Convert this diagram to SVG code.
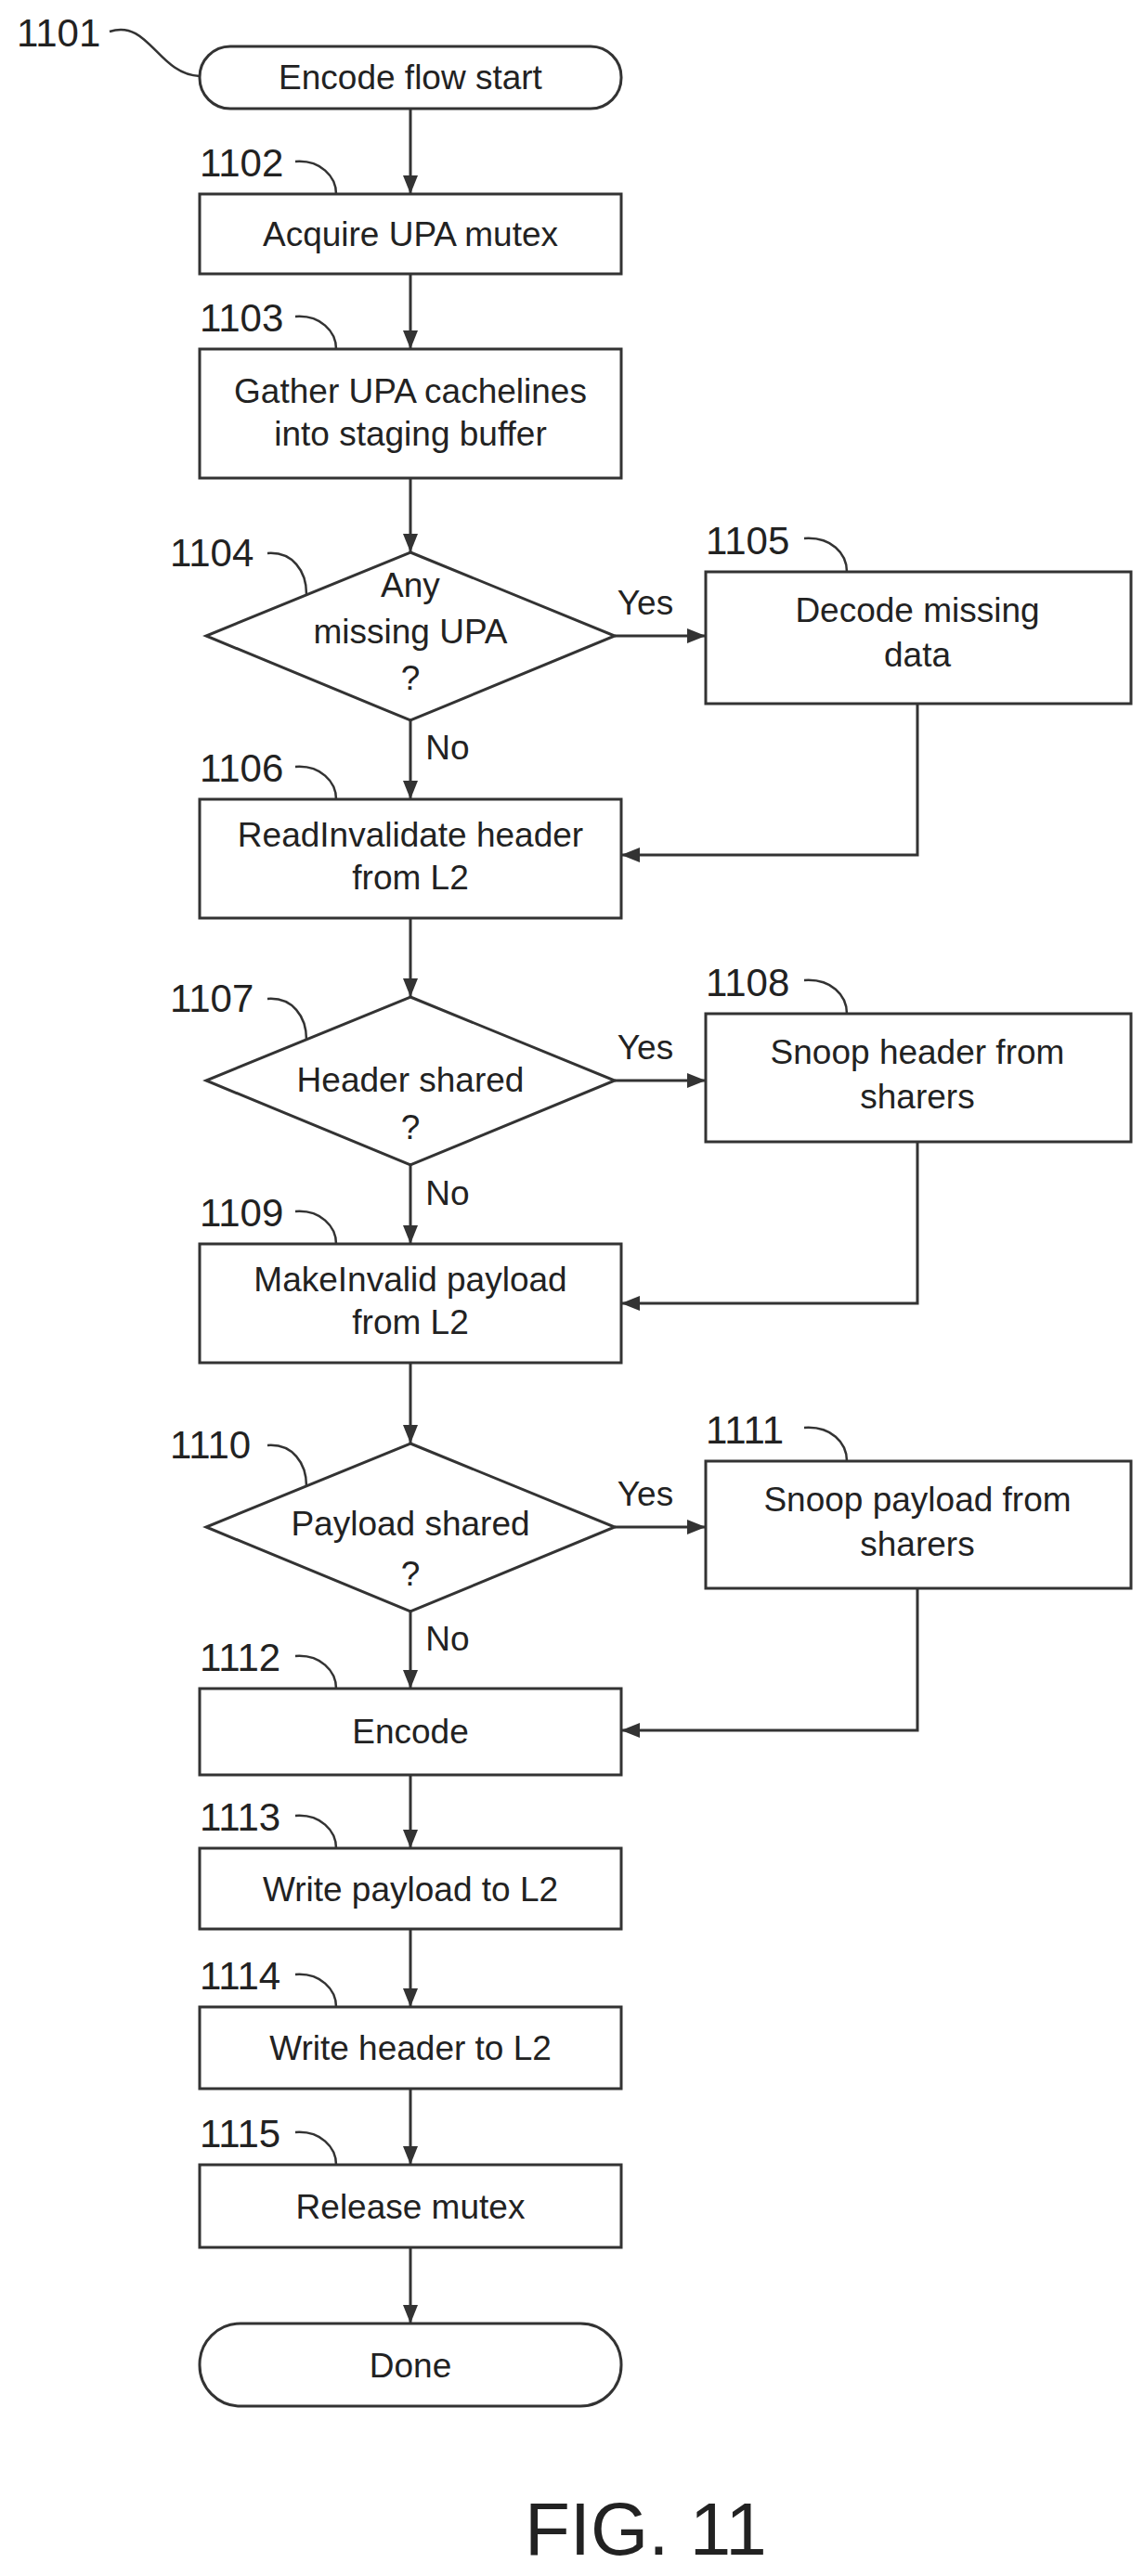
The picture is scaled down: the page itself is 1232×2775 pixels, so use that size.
<svg xmlns="http://www.w3.org/2000/svg" width="1232" height="2775" viewBox="0 0 1232 2775">
<style>
.s{fill:#fff;stroke:#333;stroke-width:3}
.t{font-family:"Liberation Sans",Arial,sans-serif;font-size:37px;fill:#222;text-anchor:middle}
.l{font-family:"Liberation Sans",Arial,sans-serif;font-size:42px;fill:#222}
.c{fill:none;stroke:#333;stroke-width:3}
.k{fill:none;stroke:#333;stroke-width:2.5}
</style>
<defs>
<marker id="a" viewBox="0 0 20 16" refX="20" refY="8" markerWidth="20" markerHeight="16" markerUnits="userSpaceOnUse" orient="auto">
<path d="M0,0 L20,8 L0,16 Z" fill="#333"/>
</marker>
</defs>
<g id="connectors">
<path class="c" marker-end="url(#a)" d="M442,117 V209"/>
<path class="c" marker-end="url(#a)" d="M442,295 V376"/>
<path class="c" marker-end="url(#a)" d="M442,515 V595"/>
<path class="c" marker-end="url(#a)" d="M662,685 H760"/>
<path class="c" marker-end="url(#a)" d="M442,776 V861"/>
<path class="c" marker-end="url(#a)" d="M988,758 V921 H669"/>
<path class="c" marker-end="url(#a)" d="M442,989 V1074"/>
<path class="c" marker-end="url(#a)" d="M662,1164 H760"/>
<path class="c" marker-end="url(#a)" d="M442,1255 V1340"/>
<path class="c" marker-end="url(#a)" d="M988,1230 V1404 H669"/>
<path class="c" marker-end="url(#a)" d="M442,1468 V1555"/>
<path class="c" marker-end="url(#a)" d="M662,1645 H760"/>
<path class="c" marker-end="url(#a)" d="M442,1736 V1819"/>
<path class="c" marker-end="url(#a)" d="M988,1711 V1864 H669"/>
<path class="c" marker-end="url(#a)" d="M442,1912 V1991"/>
<path class="c" marker-end="url(#a)" d="M442,2078 V2162"/>
<path class="c" marker-end="url(#a)" d="M442,2250 V2332"/>
<path class="c" marker-end="url(#a)" d="M442,2421 V2503"/>
<text class="t" x="695" y="662">Yes</text>
<text class="t" x="695" y="1141">Yes</text>
<text class="t" x="695" y="1622">Yes</text>
<text class="t" x="482" y="818">No</text>
<text class="t" x="482" y="1298">No</text>
<text class="t" x="482" y="1778">No</text>
</g>
<g id="n1101"><rect class="s" x="215" y="50" width="454" height="67" rx="33"/><text class="t" x="442" y="96">Encode flow start</text>
<text class="l" x="18" y="50">1101</text><path class="k" d="M118,34 C160,20 170,80 215,82"/></g>
<g id="n1102"><rect class="s" x="215" y="209" width="454" height="86"/><text class="t" x="442" y="265">Acquire UPA mutex</text>
<text class="l" x="215" y="190">1102</text><path class="k" d="M318,174 C345,172 362,190 362,209"/></g>
<g id="n1103"><rect class="s" x="215" y="376" width="454" height="139"/><text class="t" x="442" y="434">Gather UPA cachelines</text><text class="t" x="442" y="480">into staging buffer</text>
<text class="l" x="215" y="357">1103</text><path class="k" d="M318,341 C345,339 362,357 362,376"/></g>
<g id="n1104"><polygon class="s" points="442,595 662,685 442,776 222,685"/><text class="t" x="442" y="643">Any</text><text class="t" x="442" y="693">missing UPA</text><text class="t" x="442" y="743">?</text>
<text class="l" x="183" y="610">1104</text><path class="k" d="M288,596 C315,594 330,615 330,640"/></g>
<g id="n1105"><rect class="s" x="760" y="616" width="458" height="142"/><text class="t" x="988" y="670">Decode missing</text><text class="t" x="988" y="718">data</text>
<text class="l" x="760" y="597">1105</text><path class="k" d="M866,580 C895,578 912,596 912,616"/></g>
<g id="n1106"><rect class="s" x="215" y="861" width="454" height="128"/><text class="t" x="442" y="912">ReadInvalidate header</text><text class="t" x="442" y="958">from L2</text>
<text class="l" x="215" y="842">1106</text><path class="k" d="M318,826 C345,824 362,842 362,861"/></g>
<g id="n1107"><polygon class="s" points="442,1074 662,1164 442,1255 222,1164"/><text class="t" x="442" y="1176">Header shared</text><text class="t" x="442" y="1227">?</text>
<text class="l" x="183" y="1090">1107</text><path class="k" d="M288,1076 C315,1074 330,1095 330,1120"/></g>
<g id="n1108"><rect class="s" x="760" y="1092" width="458" height="138"/><text class="t" x="988" y="1146">Snoop header from</text><text class="t" x="988" y="1194">sharers</text>
<text class="l" x="760" y="1073">1108</text><path class="k" d="M866,1056 C895,1054 912,1072 912,1092"/></g>
<g id="n1109"><rect class="s" x="215" y="1340" width="454" height="128"/><text class="t" x="442" y="1391">MakeInvalid payload</text><text class="t" x="442" y="1437">from L2</text>
<text class="l" x="215" y="1321">1109</text><path class="k" d="M318,1305 C345,1303 362,1321 362,1340"/></g>
<g id="n1110"><polygon class="s" points="442,1555 662,1645 442,1736 222,1645"/><text class="t" x="442" y="1654">Payload shared</text><text class="t" x="442" y="1708">?</text>
<text class="l" x="183" y="1571">1110</text><path class="k" d="M288,1557 C315,1555 330,1576 330,1601"/></g>
<g id="n1111"><rect class="s" x="760" y="1574" width="458" height="137"/><text class="t" x="988" y="1628">Snoop payload from</text><text class="t" x="988" y="1676">sharers</text>
<text class="l" x="760" y="1555">1111</text><path class="k" d="M866,1538 C895,1536 912,1554 912,1574"/></g>
<g id="n1112"><rect class="s" x="215" y="1819" width="454" height="93"/><text class="t" x="442" y="1878">Encode</text>
<text class="l" x="215" y="1800">1112</text><path class="k" d="M318,1784 C345,1782 362,1800 362,1819"/></g>
<g id="n1113"><rect class="s" x="215" y="1991" width="454" height="87"/><text class="t" x="442" y="2048">Write payload to L2</text>
<text class="l" x="215" y="1972">1113</text><path class="k" d="M318,1956 C345,1954 362,1972 362,1991"/></g>
<g id="n1114"><rect class="s" x="215" y="2162" width="454" height="88"/><text class="t" x="442" y="2219">Write header to L2</text>
<text class="l" x="215" y="2143">1114</text><path class="k" d="M318,2127 C345,2125 362,2143 362,2162"/></g>
<g id="n1115"><rect class="s" x="215" y="2332" width="454" height="89"/><text class="t" x="442" y="2390">Release mutex</text>
<text class="l" x="215" y="2313">1115</text><path class="k" d="M318,2297 C345,2295 362,2313 362,2332"/></g>
<g id="done"><rect class="s" x="215" y="2503" width="454" height="89" rx="44"/><text class="t" x="442" y="2561">Done</text></g>
<text x="565" y="2752" style="font-family:'Liberation Sans',Arial,sans-serif;font-size:80px;fill:#222">FIG. 11</text>
</svg>
